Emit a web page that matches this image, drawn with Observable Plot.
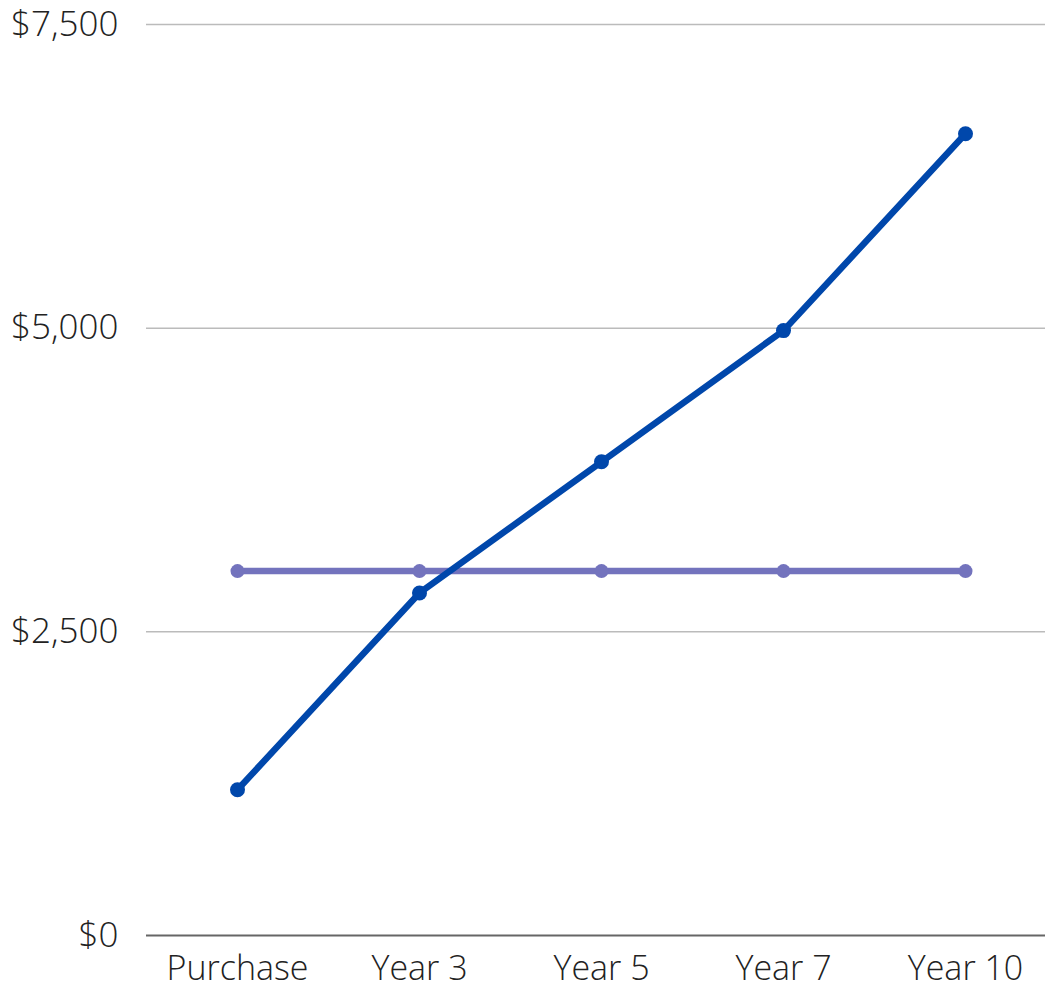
<!DOCTYPE html>
<html>
<head>
<meta charset="utf-8">
<script src="https://cdn.jsdelivr.net/npm/d3@7"></script>
<script src="https://cdn.jsdelivr.net/npm/@observablehq/plot@0.6"></script>
<style>
  html, body { margin: 0; padding: 0; background: #fff; }
  #chart svg { display: block; }
</style>
</head>
<body>
<div id="chart"></div>
<script>
const categories = ["Purchase", "Year 3", "Year 5", "Year 7", "Year 10"];
const seriesA = [1200, 2820, 3900, 4980, 6600];   // blue
const seriesB = [3000, 3000, 3000, 3000, 3000];   // purple
const yTicks = [0, 2500, 5000, 7500];

const dataA = categories.map((c, i) => ({cat: c, value: seriesA[i]}));
const dataB = categories.map((c, i) => ({cat: c, value: seriesB[i]}));

const blue = "#0047ab";
const purple = "#7373bd";

const chart = Plot.plot({
  width: 1045,
  height: 991,
  marginLeft: 146,
  marginRight: 0,
  marginTop: 24,
  marginBottom: 56,
  style: {fontFamily: "'Open Sans', sans-serif", fontWeight: 300, fontSize: "34px", color: "#222", background: "#fff"},
  x: {type: "point", domain: categories, range: [237, 965], padding: 0, label: null},
  y: {domain: [0, 7500], label: null},
  marks: [
    Plot.ruleY(yTicks.filter(d => d > 0), {stroke: "#bbb", strokeWidth: 1.5, strokeOpacity: 1}),
    Plot.ruleY([0], {stroke: "#666", strokeWidth: 2}),
    Plot.axisY({ticks: yTicks, tickSize: 0, tickPadding: 28, tickFormat: d => "$" + d3.format(",")(d), fontSize: 35, fontWeight: 300, fill: "#222"}),
    Plot.axisX({tickSize: 0, tickPadding: 20, fontSize: 34, fontWeight: 300, fill: "#222"}),
    Plot.line(dataB, {x: "cat", y: "value", stroke: purple, strokeWidth: 6.5}),
    Plot.dot(dataB, {x: "cat", y: "value", fill: purple, r: 7}),
    Plot.line(dataA, {x: "cat", y: "value", stroke: blue, strokeWidth: 6.5}),
    Plot.dot(dataA, {x: "cat", y: "value", fill: blue, r: 7.5})
  ]
});
document.getElementById("chart").appendChild(chart);
</script>
</body>
</html>
